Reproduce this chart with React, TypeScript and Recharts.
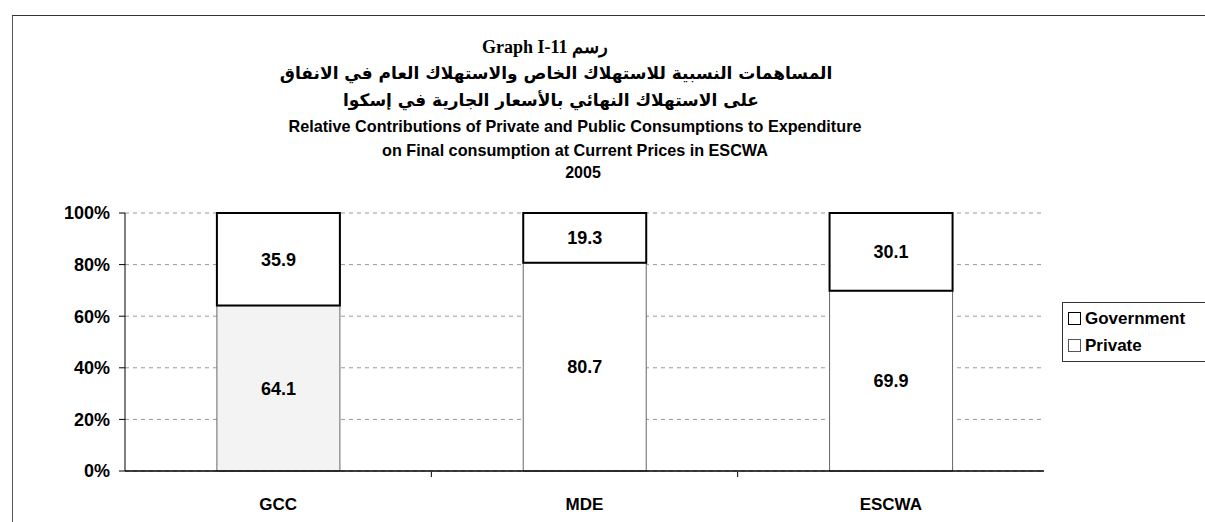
import React from 'react';
import { BarChart, Bar, XAxis, YAxis, CartesianGrid, Legend, LabelList, Cell } from 'recharts';

const regions = ['GCC', 'MDE', 'ESCWA'];
const privateShare = [64.1, 80.7, 69.9];
const governmentShare = [35.9, 19.3, 30.1];
const yTicks = [0, 20, 40, 60, 80, 100];
const separators = [1, 2];

const chartData = regions.map((name, i) => ({
  name,
  slot: i + 0.5,
  Private: privateShare[i],
  Government: governmentShare[i],
}));

const sans = '"Liberation Sans", Arial, sans-serif';

const titleLine = (top: number, center: number, text: string, style: React.CSSProperties = {}) => (
  <div
    style={{
      position: 'absolute', left: center - 500, width: 1000, top, height: 24, lineHeight: '24px',
      textAlign: 'center', fontFamily: sans, fontWeight: 700, fontSize: 16, color: '#000',
      whiteSpace: 'nowrap', ...style,
    }}
  >
    {text}
  </div>
);

const LegendBox = (props: any) => {
  const items = [...(props.payload || [])].sort((a: any) => (a.value === 'Government' ? -1 : 1));
  return (
    <div style={{ border: '1px solid #333', background: '#fff', padding: '2px 8px 2px 5px', width: 150 }}>
      {items.map((it: any) => (
        <div key={it.value} style={{ display: 'flex', alignItems: 'center', height: 27, fontFamily: sans, fontWeight: 700, fontSize: 17, color: '#000' }}>
          <span style={{ display: 'inline-block', width: 11, height: 11, border: it.value === 'Government' ? '1.5px solid #000' : '1px solid #555', marginRight: 4, background: '#fff' }} />
          {it.value}
        </div>
      ))}
    </div>
  );
};

export default function App() {
  return (
    <div style={{ position: 'absolute', left: 0, top: 0, width: 1205, height: 522, background: '#fff', overflow: 'hidden' }}>
      <div style={{ position: 'absolute', left: 12, top: 15, width: 1210, height: 520, borderTop: '1.5px solid #333', borderLeft: '1.5px solid #555' }} />
      {titleLine(35, 545, 'Graph I-11 رسم', { fontFamily: '"Liberation Serif", "DejaVu Serif", serif', fontSize: 18 })}
      {titleLine(61, 556, 'المساهمات النسبية  للاستهلاك الخاص والاستهلاك العام في الانفاق', { fontFamily: '"DejaVu Sans", sans-serif', fontSize: 17, direction: 'rtl' })}
      {titleLine(88, 551, 'على الاستهلاك النهائي بالأسعار الجارية في إسكوا', { fontFamily: '"DejaVu Sans", sans-serif', fontSize: 17, direction: 'rtl' })}
      {titleLine(114, 575, 'Relative Contributions of Private and Public Consumptions to Expenditure', { fontSize: 16.2 })}
      {titleLine(138, 575, 'on Final consumption at Current Prices in ESCWA', { fontSize: 16.2 })}
      {titleLine(161, 583, '2005')}
      <div style={{ position: 'absolute', left: 0, top: 0 }}>
        <BarChart
          width={1205}
          height={522}
          data={chartData}
          margin={{ top: 213, right: 161, left: 65, bottom: 49 }}
          barCategoryGap="30%"
        >
          <CartesianGrid vertical={false} stroke="#999" strokeDasharray="4 4" />
          <XAxis
            xAxisId="sep"
            dataKey="slot"
            type="number"
            domain={[0, 3]}
            ticks={separators}
            tickFormatter={() => ''}
            tickSize={5}
            axisLine={false}
            tickLine={{ stroke: '#000' }}
            height={1}
          />
          <XAxis
            dataKey="name"
            height={1}
            axisLine={{ stroke: '#000', strokeWidth: 1.5 }}
            tickLine={false}
            tickMargin={21}
            tick={{ fontFamily: sans, fontWeight: 700, fontSize: 17, fill: '#000' }}
          />
          <YAxis
            width={60}
            domain={[0, 100]}
            ticks={yTicks}
            tickFormatter={(v: number) => `${v}%`}
            axisLine={{ stroke: '#000' }}
            tickLine={{ stroke: '#000' }}
            tickSize={6}
            tickMargin={9}
            tick={{ fontFamily: sans, fontWeight: 700, fontSize: 18, fill: '#000' }}
          />
          <Legend
            layout="horizontal"
            verticalAlign="middle"
            align="center"
            content={<LegendBox />}
            wrapperStyle={{ position: 'absolute', left: 1062, top: 302, width: 170 }}
          />
          <Bar dataKey="Private" stackId="a" fill="#fff" stroke="#666" strokeWidth={1} isAnimationActive={false}>
            {chartData.map((d) => (
              <Cell key={d.name} fill={d.name === 'GCC' ? '#f3f3f3' : '#fff'} />
            ))}
            <LabelList dataKey="Private" position="center" style={{ fontFamily: sans, fontWeight: 700, fontSize: 18, fill: '#000' }} />
          </Bar>
          <Bar dataKey="Government" stackId="a" fill="#fff" stroke="#000" strokeWidth={2} isAnimationActive={false}>
            <LabelList dataKey="Government" position="center" style={{ fontFamily: sans, fontWeight: 700, fontSize: 18, fill: '#000' }} />
          </Bar>
        </BarChart>
      </div>
    </div>
  );
}
